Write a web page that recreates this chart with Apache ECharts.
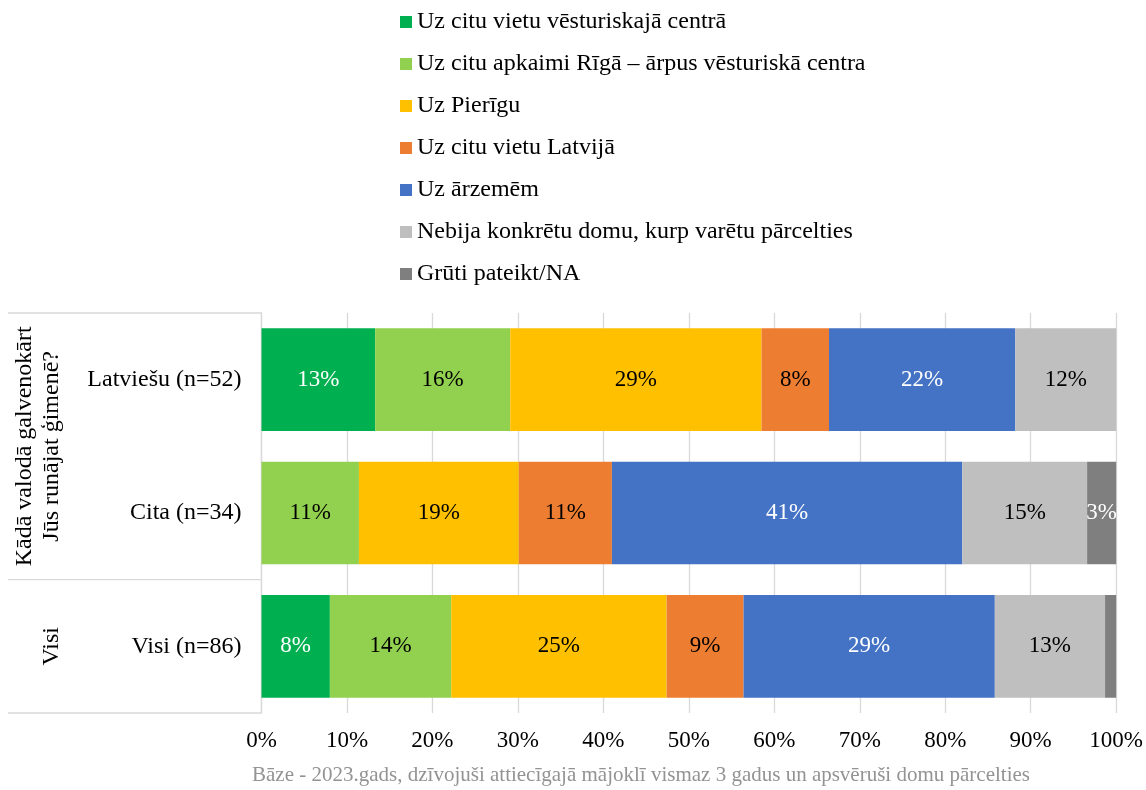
<!DOCTYPE html>
<html>
<head>
<meta charset="utf-8">
<script src="https://cdn.jsdelivr.net/npm/echarts@6/dist/echarts.min.js"></script>
<style>html,body{margin:0;padding:0;background:#fff}#c{width:1146px;height:790px}</style>
</head>
<body>
<div id="c"></div>
<script>
var categories = ['Latviešu (n=52)', 'Cita (n=34)', 'Visi (n=86)'];
var seriesNames = ['Uz citu vietu vēsturiskajā centrā', 'Uz citu apkaimi Rīgā – ārpus vēsturiskā centra', 'Uz Pierīgu', 'Uz citu vietu Latvijā', 'Uz ārzemēm', 'Nebija konkrētu domu, kurp varētu pārcelties', 'Grūti pateikt/NA'];
var vesturiskajaCentra = [13.3, 0, 8.0];
var apkaimiRiga = [15.8, 11.4, 14.2];
var pieriga = [29.4, 18.7, 25.2];
var latvija = [7.9, 10.9, 9.0];
var arzemes = [21.8, 41.0, 29.4];
var nebija = [11.8, 14.6, 12.9];
var gruti = [0, 3.4, 1.3];
var xTicks = ['0%', '10%', '20%', '30%', '40%', '50%', '60%', '70%', '80%', '90%', '100%'];
var groupTitles = ['Kādā valodā galvenokārt\nJūs runājat ģimenē?', 'Visi'];
var footer = 'Bāze - 2023.gads, dzīvojuši attiecīgajā mājoklī vismaz 3 gadus un apsvēruši domu pārcelties';

var seriesData = [vesturiskajaCentra, apkaimiRiga, pieriga, latvija, arzemes, nebija, gruti];
var colors = ['#00B050', '#92D050', '#FFC000', '#ED7D31', '#4472C4', '#BFBFBF', '#7F7F7F'];
var labelColors = ['#fff', '#000', '#000', '#000', '#fff', '#000', '#fff'];
var FONT = "'Liberation Serif', 'Times New Roman', serif";
var FS_BIG = 24, FS_LBL = 23, FS_FOOT = 21;

var gridLeft = 261.5, gridTop = 313, gridH = 400, gridRight = 29;
var band = gridH / categories.length;

var chart = echarts.init(document.getElementById('c'));
var series = seriesNames.map(function (n, i) {
  return {
    name: n, type: 'bar', stack: 'all', barCategoryGap: '23%',
    itemStyle: { color: colors[i] },
    data: seriesData[i].map(function (v) { return v > 0 ? v : null; }),
    label: {
      show: true, position: 'inside', color: labelColors[i],
      fontFamily: FONT, fontSize: FS_LBL,
      formatter: function (p) { return (p.value == null || p.value < 2) ? '' : Math.round(p.value) + '%'; }
    },
    emphasis: { disabled: true }
  };
});

var lineStyle = { stroke: '#D9D9D9', lineWidth: 1.3 };
var graphics = [
  { type: 'line', shape: { x1: 8, y1: gridTop, x2: gridLeft, y2: gridTop }, style: lineStyle },
  { type: 'line', shape: { x1: 8, y1: gridTop + 2 * band, x2: gridLeft, y2: gridTop + 2 * band }, style: lineStyle },
  { type: 'line', shape: { x1: 8, y1: gridTop + gridH, x2: gridLeft, y2: gridTop + gridH }, style: lineStyle },
  { type: 'text', x: 38, y: gridTop + band, rotation: Math.PI / 2,
    style: { text: groupTitles[0], font: FS_BIG + 'px ' + FONT, fill: '#000', align: 'center', verticalAlign: 'middle', lineHeight: 27 } },
  { type: 'text', x: 52, y: gridTop + 2.5 * band, rotation: Math.PI / 2,
    style: { text: groupTitles[1], font: FS_BIG + 'px ' + FONT, fill: '#000', align: 'center', verticalAlign: 'middle' } },
  { type: 'text', x: 641, y: 775,
    style: { text: footer, font: FS_FOOT + 'px ' + FONT, fill: '#939393', align: 'center', verticalAlign: 'middle' } }
];

chart.setOption({
  animation: false,
  color: colors,
  textStyle: { fontFamily: FONT },
  legend: {
    orient: 'vertical', left: 395, top: 5,
    itemWidth: 12, itemHeight: 12, itemGap: 18, icon: 'rect',
    textStyle: { fontFamily: FONT, fontSize: FS_BIG, color: '#000', lineHeight: 24 },
    data: seriesNames
  },
  grid: { left: gridLeft, right: gridRight, top: gridTop, height: gridH, containLabel: false },
  xAxis: {
    type: 'value', min: 0, max: 100, interval: 10,
    axisLine: { show: false }, axisTick: { show: false },
    splitLine: { show: true, lineStyle: { color: '#D9D9D9', width: 1.3 } },
    axisLabel: { fontFamily: FONT, fontSize: FS_LBL, color: '#000', margin: 16,
      formatter: function (v) { return xTicks[Math.round(v / 10)]; } }
  },
  yAxis: {
    type: 'category', inverse: true, data: categories,
    axisLine: { show: true, lineStyle: { color: '#D9D9D9', width: 1.3 } },
    axisTick: { show: false },
    axisLabel: { fontFamily: FONT, fontSize: FS_BIG, color: '#000', margin: 20 }
  },
  series: series,
  graphic: graphics
});
</script>
</body>
</html>
